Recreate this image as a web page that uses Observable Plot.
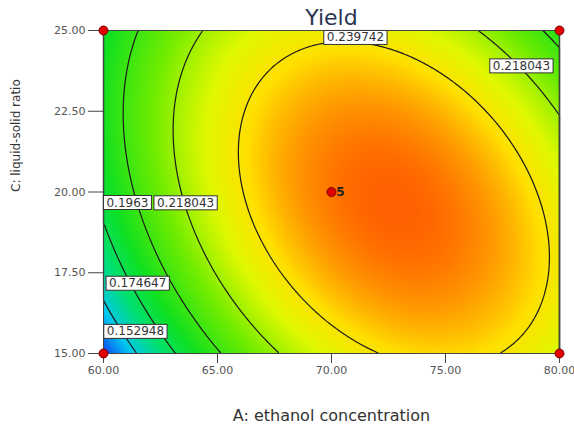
<!DOCTYPE html>
<html><head><meta charset="utf-8">
<script src="https://cdn.jsdelivr.net/npm/d3@7"></script>
<script src="https://cdn.jsdelivr.net/npm/@observablehq/plot@0.6"></script>
<style>
body{margin:0;background:#fff;}
#chart{position:relative;width:574px;height:426px;}
</style></head><body><div id="chart"></div>
<script>
// Contour levels printed on the chart
const levels = [0.152948, 0.174647, 0.196345, 0.218043, 0.239742];
// Points: level index, A (ethanol %), C (liquid-solid ratio)
const traceLevel = [4,4,4,4,4,4,4,4,4,4,4,4,4,4,4,4,4,4,4,4,4, 3,3,3,3,3,3,3,3,3,3, 2,2,2,2,2,2,2, 1,1, 0,0];
const traceA = [69.39,68.07,66.75,66.14,65.92,66.01,66.75,67.76,68.95,70.39,72.15,77.41,78.73,79.52,79.52,79.17,78.42,77.28,75.79,73.60,71.40,
                64.34,63.38,63.03,63.25,63.46,64.69,66.00,67.72,76.45,80.00,
                61.49,60.88,60.88,61.32,65.22,79.30,80.00,
                60.05,63.20,
                60.00,61.40];
const traceC = [24.60,24.01,23.20,22.28,21.22,19.89,19.02,17.79,16.64,15.71,15.00,15.00,16.11,17.48,18.50,19.83,21.04,22.06,23.08,24.13,24.63,
                25.00,23.61,22.06,20.51,19.89,17.48,15.93,15.00,25.00,22.43,
                25.00,23.08,21.53,19.89,15.00,25.00,24.44,
                19.00,15.00,
                16.90,15.00];
// Design points (runs) shown as red dots
const designA = [60, 80, 60, 80, 70];
const designC = [25, 25, 15, 15, 20];
const designLabel = ["", "", "", "", "5"];
// Contour label boxes (visible text, position in data units)
const labelText = ["0.239742", "0.218043", "0.1963", "0.218043", "0.174647", "0.152948"];
const labelA = [71.05, 78.33, 61.05, 63.60, 61.50, 61.40];
const labelC = [24.78, 23.90, 19.67, 19.66, 17.17, 15.68];
const xTicks = [60, 65, 70, 75, 80];
const yTicks = [15, 17.5, 20, 22.5, 25];

// Fit the full quadratic response surface to the traced contour points
function feats(A, C){ const a=(A-70)/10, c=(C-20)/5; return [1,a,c,a*c,a*a,c*c]; }
const n=6, M=Array.from({length:n},()=>new Array(n).fill(0)), b=new Array(n).fill(0);
traceA.forEach((A,i)=>{ const f=feats(A,traceC[i]); const yv=levels[traceLevel[i]];
  for(let r=0;r<n;r++){ b[r]+=f[r]*yv; for(let s=0;s<n;s++) M[r][s]+=f[r]*f[s]; } });
function solve(M,b){ const m=M.map((r,i)=>[...r,b[i]]);
  for(let i=0;i<n;i++){ let p=i; for(let k=i+1;k<n;k++) if(Math.abs(m[k][i])>Math.abs(m[p][i])) p=k;
    [m[i],m[p]]=[m[p],m[i]];
    for(let k=0;k<n;k++) if(k!==i){ const f=m[k][i]/m[i][i]; for(let j=i;j<=n;j++) m[k][j]-=f*m[i][j]; } }
  return m.map((r,i)=>r[n]/r[i]); }
const coef = solve(M,b);
const model = (A,C)=>{ const f=feats(A,C); return f.reduce((s,v,i)=>s+v*coef[i],0); };
let vmin=Infinity, vmax=-Infinity;
for(let A=60;A<=80;A+=0.1) for(let C=15;C<=25;C+=0.05){ const v=model(A,C); if(v<vmin)vmin=v; if(v>vmax)vmax=v; }

const labels = labelText.map((t,i)=>({t, A:labelA[i], C:labelC[i]}));
const design = designA.map((A,i)=>({A, C:designC[i], t:designLabel[i]}));

const chart = Plot.plot({
  width: 574, height: 426,
  marginLeft: 103, marginRight: 15, marginTop: 30, marginBottom: 73,
  style: {fontFamily: "DejaVu Sans", fontSize: "11px", background: "#fff", color: "#333"},
  x: {domain: [60, 80]},
  y: {domain: [15, 25]},
  color: {type: "linear", interpolate: "rgb",
          domain: [vmin, 0.15, 0.168, 0.185, 0.21, 0.23, 0.242, vmax],
          range: ["#1040f0", "#00c8f0", "#00e070", "#10e020", "#70ec00", "#e0f800", "#ffe000", "#ff6000"]},
  marks: [
    Plot.raster({x1: 60, x2: 80, y1: 15, y2: 25, fill: (x, y) => model(x, y), pixelSize: 1}),
    Plot.contour({x1: 60, x2: 80, y1: 15, y2: 25, value: (x, y) => model(x, y), thresholds: levels, stroke: "#1a1a1a", strokeWidth: 1.2, fill: "none"}),
    Plot.frame({stroke: "#444"}),
    Plot.axisX({ticks: xTicks, tickFormat: d => d.toFixed(2), tickSize: 10, tickPadding: 3, label: null, fill: "#555", stroke: "#444"}),
    Plot.axisY({ticks: yTicks, tickFormat: d => d.toFixed(2), tickSize: 15, tickPadding: 3, label: null, fill: "#555", stroke: "#444"}),
    Plot.text(labels, {x: "A", y: "C", text: "t", fontSize: 12, fill: "#333", className: "clabel"}),
    Plot.dot(design, {x: "A", y: "C", r: 4.5, fill: "#e00000", stroke: "#700", strokeWidth: 1, clip: false}),
    Plot.text(design, {x: "A", y: "C", text: "t", dx: 9, fontSize: 12, fontWeight: "bold", fill: "#222"}),
    Plot.text(["Yield"], {frameAnchor: "top", lineAnchor: "middle", dy: -13, fontSize: 22, fill: "#2a3550"}),
    Plot.text(["A: ethanol concentration"], {frameAnchor: "bottom", lineAnchor: "middle", dy: 62, fontSize: 16, fill: "#333"}),
    Plot.text(["C: liquid-solid ratio"], {frameAnchor: "left", lineAnchor: "middle", rotate: -90, dx: -87, fontSize: 12, fill: "#333"})
  ]
});
document.getElementById("chart").appendChild(chart);
// white boxes with a dark border behind the contour labels
chart.querySelectorAll(".clabel text").forEach(t => {
  const bb = t.getBBox();
  const r = document.createElementNS("http://www.w3.org/2000/svg", "rect");
  r.setAttribute("x", bb.x - 3); r.setAttribute("y", bb.y);
  r.setAttribute("width", bb.width + 6); r.setAttribute("height", bb.height);
  r.setAttribute("fill", "#fff"); r.setAttribute("stroke", "#333"); r.setAttribute("stroke-width", 1);
  const tr = t.getAttribute("transform"); if (tr) r.setAttribute("transform", tr);
  t.parentNode.insertBefore(r, t);
});
</script></body></html>
